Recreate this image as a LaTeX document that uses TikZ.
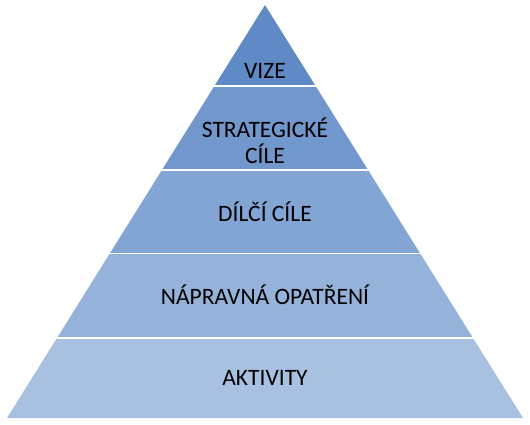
\documentclass[tikz,border=0pt]{standalone}
\usepackage{fontspec}
\setmainfont{Carlito}
\definecolor{bandA}{RGB}{96,138,197}
\definecolor{bandB}{RGB}{113,151,205}
\definecolor{bandC}{RGB}{131,165,212}
\definecolor{bandD}{RGB}{149,179,218}
\definecolor{bandE}{RGB}{168,193,225}
\tikzset{
  lbl/.style={font=\fontsize{23.5}{26}\selectfont, text=black, align=center, inner sep=0pt}
}
\begin{document}
\begin{tikzpicture}[x=1pt,y=-1pt]
\useasboundingbox (0,0) rectangle (530,424);
\coordinate (apex) at (265,5);
\coordinate (bl) at (7,418);
\coordinate (br) at (523,418);
\foreach \ya/\yb/\c in {0/84/bandA, 87/168/bandB, 171/252/bandC, 254.5/336/bandD, 339/420/bandE}{
  \begin{scope}
    \clip (0,\ya) rectangle (530,\yb);
    \fill[\c] (apex) -- (bl) -- (br) -- cycle;
  \end{scope}
}
\node[lbl] (vize) at (265,71) {VIZE};
\node[lbl] (strat) at (265,141) {STRATEGICKÉ\\CÍLE};
\node[lbl] (dilci) at (265,212) {DÍLČÍ CÍLE};
\node[lbl] (naprav) at (265,295) {NÁPRAVNÁ OPATŘENÍ};
\node[lbl] (aktiv) at (265,378) {AKTIVITY};
\end{tikzpicture}
\end{document}
